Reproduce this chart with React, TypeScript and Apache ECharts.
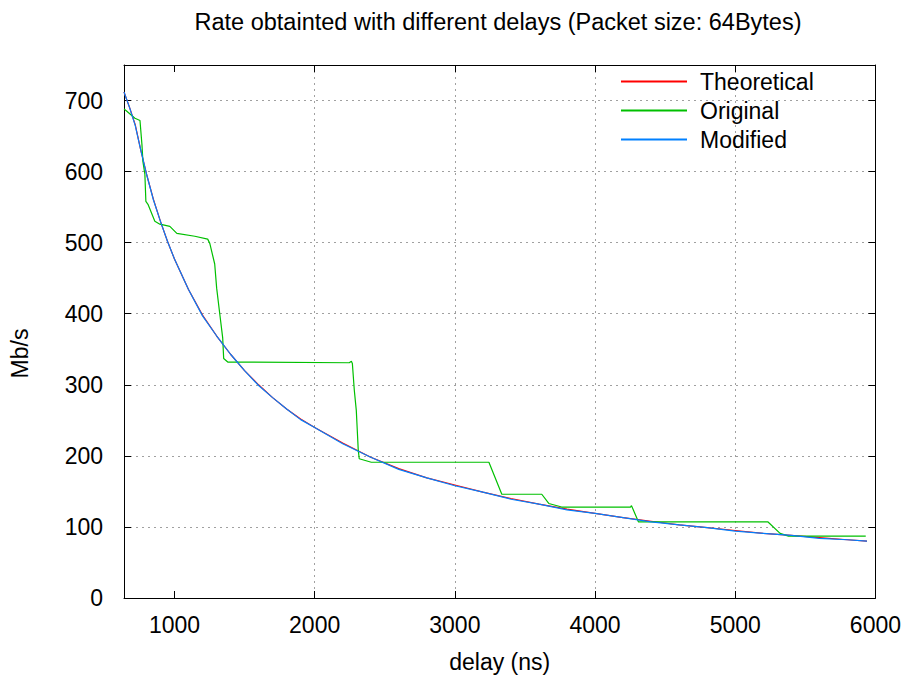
import React, { useEffect, useRef } from "react";
import * as echarts from "echarts";

const titleText = "Rate obtainted with different delays (Packet size: 64Bytes)";
const xName = "delay (ns)";
const yName = "Mb/s";
const xTicks = [1000, 2000, 3000, 4000, 5000, 6000];
const yTicks = [0, 100, 200, 300, 400, 500, 600, 700];

const theoDelay = [640, 680, 720, 760, 800, 850, 900, 950, 1000, 1100, 1200, 1300, 1400, 1500, 1600, 1700, 1800, 1900, 2000, 2200, 2400, 2600, 2800, 3000, 3200, 3400, 3600, 3800, 4000, 4200, 4400, 4600, 4800, 5000, 5200, 5400, 5600, 5800, 5940];
const theoRate = [712, 690, 666, 630, 597, 561, 530, 502, 477, 434, 398, 369, 343, 320, 300, 282, 266, 252, 240, 218, 198, 182, 169, 159, 149, 140, 132, 125, 119, 113, 108, 103, 99, 95, 91, 88, 85, 82, 80];
const modRate = [712, 690, 665, 630, 597, 560, 530, 502, 477, 434, 397, 369, 343, 320, 299, 282, 266, 251, 240, 217, 198, 181, 169, 158, 149, 139, 132, 124, 119, 113, 107, 103, 99, 94, 91, 88, 84, 82, 80];

const origDelay = [640, 654, 718, 754, 768, 775, 789, 796, 811, 860, 896, 967, 1017, 1145, 1237, 1252, 1287, 1301, 1323, 1344, 1351, 1380, 2247, 2262, 2269, 2283, 2297, 2304, 2311, 2318, 2404, 3243, 3335, 3620, 3670, 3762, 4253, 4260, 4310, 5234, 5320, 5380, 5931];
const origRate = [688, 686, 675, 672, 638, 614, 596, 558, 554, 530, 526, 523, 513, 509, 505, 499, 470, 436, 400, 366, 337, 332, 331, 333, 330, 292, 264, 236, 208, 196, 191, 191, 146, 146, 133, 128, 128, 130, 107, 107, 91, 87, 87];

const FONT = "Liberation Sans";
const FS = 23;

export default function App() {
  const ref = useRef<HTMLDivElement>(null);
  useEffect(() => {
    if (!ref.current) return;
    const chart = echarts.init(ref.current, undefined, { renderer: "svg" });
    const pair = (xs: number[], ys: number[]) => xs.map((x, i) => [x, ys[i]]);
    const tickStyle = { show: true, inside: true, length: 7, lineStyle: { color: "#000", width: 1 } };
    const split = { show: true, showMinLine: false, showMaxLine: false, lineStyle: { color: "#a0a0a0", type: [2, 4], width: 1 } };
    chart.setOption({
      animation: false,
      backgroundColor: "#fff",
      textStyle: { fontFamily: FONT },
      title: {
        text: titleText,
        left: 498,
        textAlign: "center",
        top: 10,
        padding: 0,
        textStyle: { fontFamily: FONT, fontSize: 23.5, fontWeight: "normal", color: "#000" },
      },
      legend: {
        orient: "vertical",
        left: 620,
        top: 70,
        padding: 0,
        itemWidth: 66,
        itemHeight: 14,
        itemGap: 6,
        itemStyle: { opacity: 0 },
        textStyle: { fontFamily: FONT, fontSize: FS, color: "#000", lineHeight: 22, padding: [0, 0, 0, 8] },
        data: ["Theoretical", "Original", "Modified"],
      },
      grid: { left: 124, right: 26, top: 65, bottom: 82 },
      xAxis: [
        {
          type: "value",
          min: 640,
          max: 6000,
          name: xName,
          nameLocation: "middle",
          nameGap: 52,
          nameTextStyle: { fontFamily: FONT, fontSize: FS, color: "#000" },
          axisLine: { show: true, onZero: false, lineStyle: { color: "#000", width: 1 } },
          axisTick: { ...tickStyle, customValues: xTicks },
          axisLabel: {
            customValues: xTicks,
            fontFamily: FONT,
            fontSize: FS,
            color: "#000",
            margin: 15,
            formatter: (v: number) => String(v),
          },
          splitLine: split,
        },
        {
          type: "value",
          min: 640,
          max: 6000,
          position: "top",
          axisLine: { show: true, onZero: false, lineStyle: { color: "#000", width: 1 } },
          axisTick: { ...tickStyle, customValues: xTicks },
          axisLabel: { show: false },
          splitLine: { show: false },
        },
      ],
      yAxis: [
        {
          type: "value",
          min: 0,
          max: 750,
          interval: 100,
          name: yName,
          nameLocation: "middle",
          nameGap: 93,
          nameRotate: 90,
          nameTextStyle: { fontFamily: FONT, fontSize: FS, color: "#000", padding: [0, 44, 0, 0] },
          axisLine: { show: true, onZero: false, lineStyle: { color: "#000", width: 1 } },
          axisTick: tickStyle,
          axisLabel: {
            fontFamily: FONT,
            fontSize: FS,
            color: "#000",
            margin: 21,
            formatter: (v: number) => (yTicks.includes(v) ? String(v) : ""),
          },
          splitLine: split,
        },
        {
          type: "value",
          min: 0,
          max: 750,
          interval: 100,
          position: "right",
          axisLine: { show: true, onZero: false, lineStyle: { color: "#000", width: 1 } },
          axisTick: tickStyle,
          axisLabel: { show: false },
          splitLine: { show: false },
        },
      ],
      series: [
        {
          name: "Theoretical",
          type: "line",
          symbol: "none",
          data: pair(theoDelay, theoRate),
          lineStyle: { color: "#ff0000", width: 1.2 },
          itemStyle: { color: "#ff0000" },
        },
        {
          name: "Original",
          type: "line",
          symbol: "none",
          data: pair(origDelay, origRate),
          lineStyle: { color: "#00c000", width: 1.2 },
          itemStyle: { color: "#00c000" },
        },
        {
          name: "Modified",
          type: "line",
          symbol: "none",
          data: pair(theoDelay, modRate),
          lineStyle: { color: "#0080ff", width: 1.2 },
          itemStyle: { color: "#0080ff" },
        },
      ],
    });
    return () => chart.dispose();
  }, []);
  return <div ref={ref} style={{ position: "fixed", left: 0, top: 0, width: 904, height: 680 }} />;
}
